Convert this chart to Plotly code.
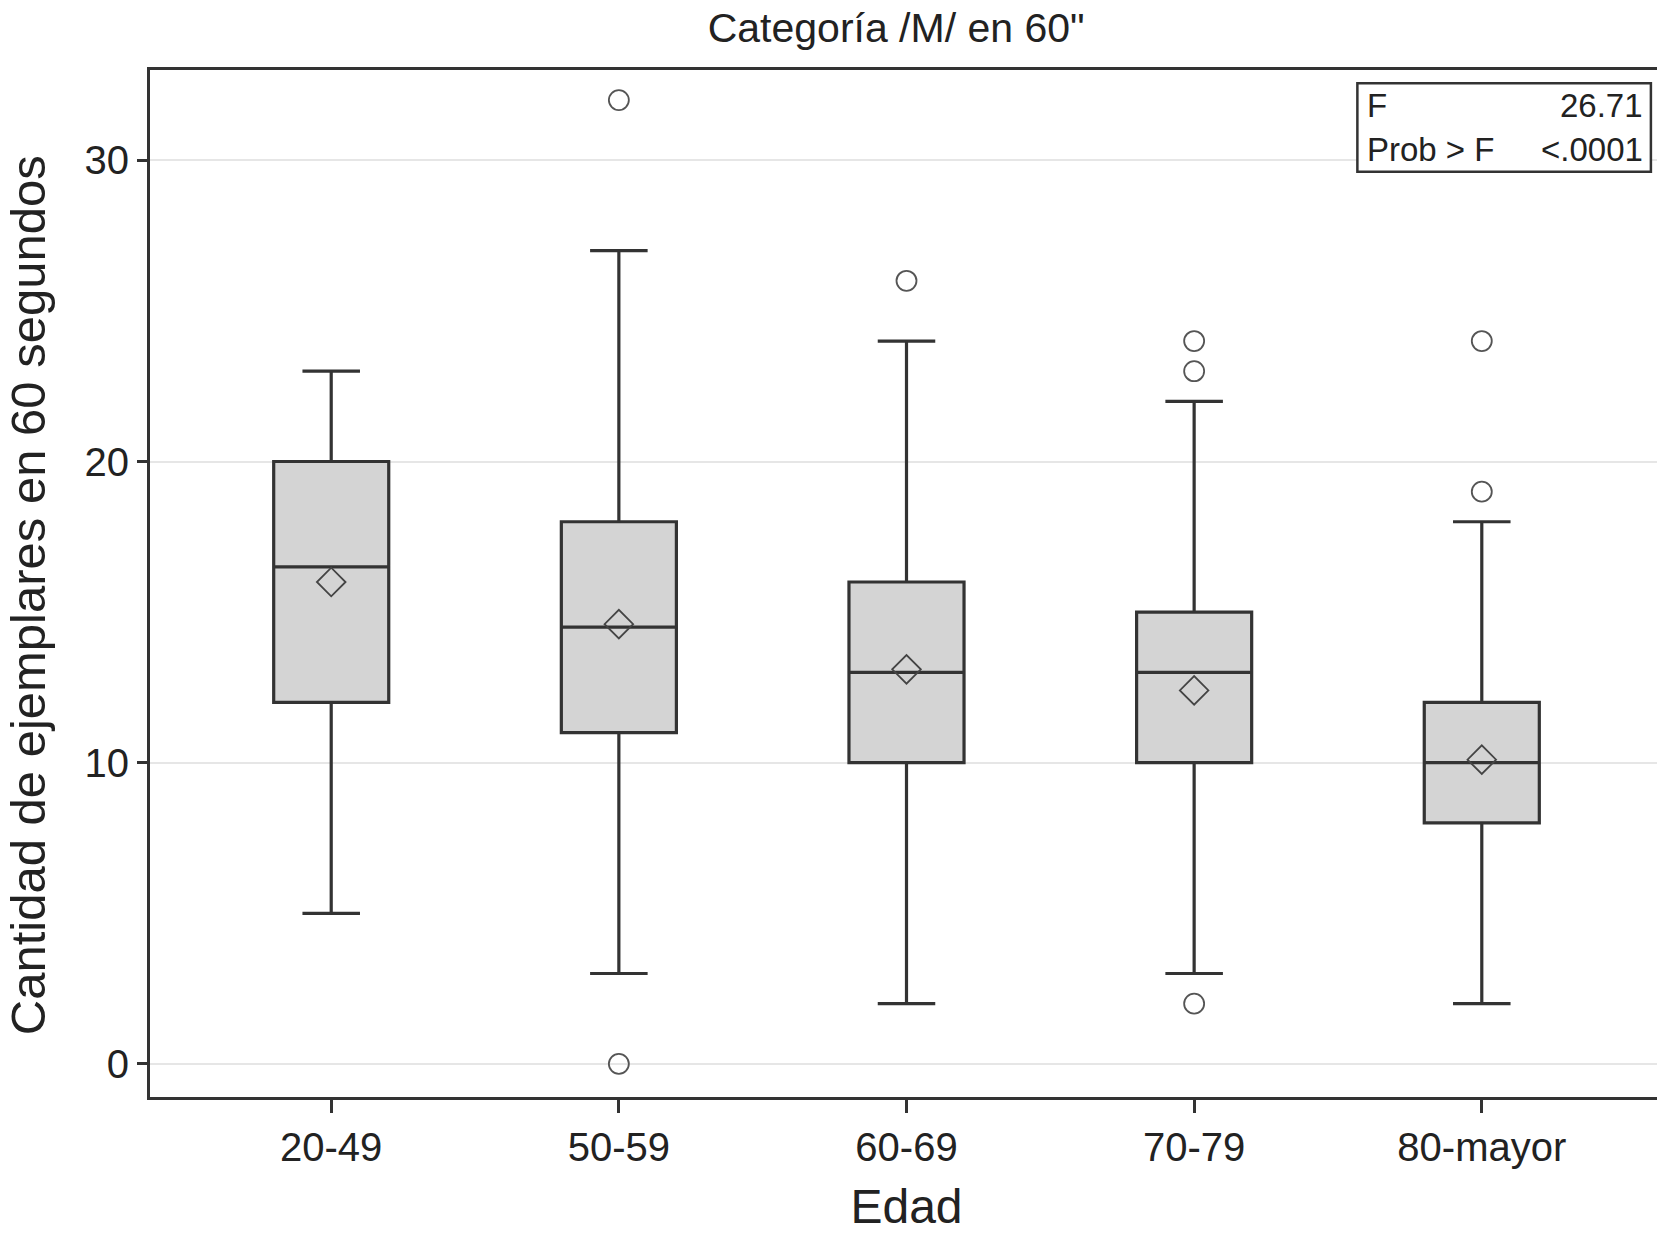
import plotly.graph_objects as go

# data
edades = ["20-49", "50-59", "60-69", "70-79", "80-mayor"]
q1 = [12, 11, 10, 10, 8]
mediana = [16.5, 14.5, 13, 13, 10]
q3 = [20, 18, 16, 15, 12]
bigote_inf = [5, 3, 2, 3, 2]
bigote_sup = [23, 27, 24, 22, 18]
media = [16.0, 14.6, 13.1, 12.4, 10.1]

atipicos_x = ["50-59", "50-59", "60-69", "70-79", "70-79", "70-79", "80-mayor", "80-mayor"]
atipicos_y = [32, 0, 26, 24, 23, 2, 24, 19]

stat_labels = ["F", "Prob > F"]
stat_values = ["26.71", "<.0001"]

FONT = "Liberation Sans, Arial, Helvetica, sans-serif"
INK = "#222222"
LINE = "#333333"

fig = go.Figure()

fig.add_trace(go.Box(
    x=edades, q1=q1, median=mediana, q3=q3,
    lowerfence=bigote_inf, upperfence=bigote_sup,
    fillcolor="#d4d4d4", line=dict(color=LINE, width=3.2),
    width=0.4, whiskerwidth=0.5, boxpoints=False,
    showlegend=False, hoverinfo="skip"
))

fig.add_trace(go.Scatter(
    x=edades, y=media, mode="markers",
    marker=dict(symbol="diamond-open", size=22, color="#444444", line=dict(width=1.8)),
    showlegend=False
))

fig.add_trace(go.Scatter(
    x=atipicos_x, y=atipicos_y, mode="markers",
    marker=dict(symbol="circle-open", size=20, color="#555555", line=dict(width=1.8)),
    showlegend=False
))

# page body adds an 8px margin, so the figure is sized/offset for that
fig.update_layout(
    width=1657, height=1229,
    paper_bgcolor="white", plot_bgcolor="white",
    font=dict(family=FONT, color=INK, size=40),
    margin=dict(l=142, r=2, t=62, b=140),
    title=dict(text="Categoría /M/ en 60\"", x=0.536, xanchor="center",
               y=0.984, yanchor="middle", font=dict(size=41, color=INK)),
)

fig.update_xaxes(
    type="category", range=[-0.63, 4.63], automargin=False,
    showline=True, linecolor=LINE, linewidth=3, mirror=True,
    ticks="outside", ticklen=13, tickwidth=2.5, tickcolor=LINE,
    showgrid=False, tickfont=dict(size=40),
    title=dict(text="Edad", font=dict(size=48), standoff=22),
)

fig.update_yaxes(
    range=[-1.1, 33], tickvals=[0, 10, 20, 30], automargin=False,
    showline=True, linecolor=LINE, linewidth=3, mirror=True,
    ticks="outside", ticklen=10, tickwidth=2.5, tickcolor=LINE,
    showgrid=True, gridcolor="#e6e6e6", gridwidth=2, zeroline=False,
    tickfont=dict(size=40),
)

# y axis title placed as rotated text, closer to the edge than the axis title allows
fig.add_annotation(x=-0.081, y=0.489, xref="paper", yref="paper",
                   text="Cantidad de ejemplares en 60 segundos", textangle=-90,
                   showarrow=False, xanchor="center", yanchor="middle",
                   font=dict(size=49, color=INK))

# statistics inset box
fig.add_shape(type="rect", xref="paper", yref="paper",
              x0=0.798, x1=0.992, y0=0.901, y1=0.987,
              line=dict(color=LINE, width=2.5), fillcolor="white")
for i, (lab, val) in enumerate(zip(stat_labels, stat_values)):
    yy = 0.965 - i * 0.042
    fig.add_annotation(x=0.803, y=yy, xref="paper", yref="paper", text=lab,
                       showarrow=False, xanchor="left", yanchor="middle",
                       font=dict(size=33, color=INK))
    fig.add_annotation(x=0.988, y=yy, xref="paper", yref="paper", text=val,
                       showarrow=False, xanchor="right", yanchor="middle",
                       font=dict(size=33, color=INK))

fig.write_html("out.html")
